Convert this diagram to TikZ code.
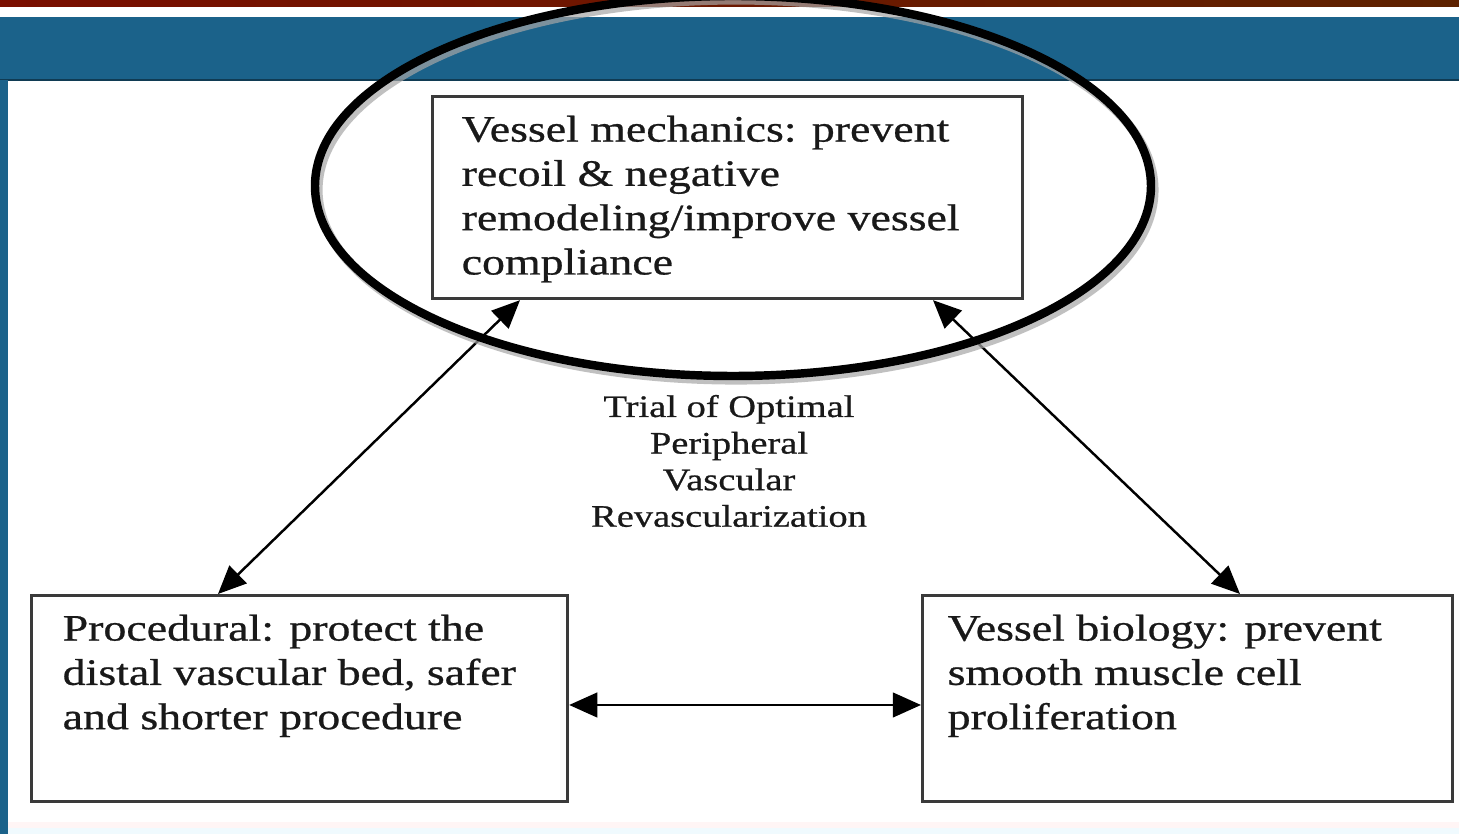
\documentclass[tikz,border=0pt]{standalone}
\usepackage{fontspec}
\setmainfont{Liberation Serif}
\newfontfamily\wideserif[FakeStretch=1.23,FakeBold=0.7]{Liberation Serif}
\usetikzlibrary{calc,arrows.meta}
\definecolor{barred}{HTML}{7A0E00}
\definecolor{barbrown}{HTML}{5E2200}
\definecolor{bandblue}{HTML}{1B628A}
\definecolor{boxgray}{HTML}{3A3A3A}
\tikzset{
  box/.style={draw=boxgray, line width=0.9pt, rectangle, inner sep=0pt},
  boxtext/.style={anchor=north west, align=left, inner sep=0pt, font=\wideserif\fontsize{10.6}{12.6}\selectfont, text=black!90},
  centertext/.style={align=center, inner sep=0pt, font=\wideserif\fontsize{8.9}{10.4}\selectfont, text=black!90},
  link/.style={line width=0.7pt, {Triangle[length=8pt,width=7pt]}-{Triangle[length=8pt,width=7pt]}},
}
\begin{document}
\begin{tikzpicture}[x=0.01cm, y=-0.01cm]
\useasboundingbox (0,0) rectangle (1459,834);
\fill[white] (0,0) rectangle (1459,834);
% top red bar
\shade[left color=barred, right color=barbrown] (0,0) rectangle (1459,7);
% blue band
\fill[bandblue] (0,17) rectangle (1459,80);
\draw[bandblue!60!black, line width=0.6pt] (0,80) -- (1459,80);
% left blue strip
\fill[bandblue] (0,80) rectangle (8,834);
% faint bottom strip
\fill[red!4] (8,822) rectangle (1459,828);
\fill[cyan!6] (8,828) rectangle (1459,834);

% boxes
\node[box, minimum width=590*0.01cm, minimum height=202*0.01cm, anchor=north west] (mech) at (431,95) {};
\node[box, minimum width=536*0.01cm, minimum height=206*0.01cm, anchor=north west] (proc) at (30,594) {};
\node[box, minimum width=530*0.01cm, minimum height=206*0.01cm, anchor=north west] (bio) at (921,594) {};

\node[boxtext] (mechtxt) at (461,115) {Vessel mechanics: prevent\\recoil \& negative\\remodeling/improve vessel\\compliance};
\node[boxtext] (proctxt) at (62,614) {Procedural: protect the\\distal vascular bed, safer\\and shorter procedure};
\node[boxtext] (biotxt) at (947,614) {Vessel biology: prevent\\smooth muscle cell\\proliferation};

\node[centertext] (trial) at (729,461) {Trial of Optimal\\Peripheral\\Vascular\\Revascularization};

% connectors
\draw[link] ($(mech.south west)+(89,0)$) -- ($(proc.north west)+(188,0)$);
\draw[link] ($(mech.south west)+(502,0)$) -- ($(bio.north west)+(319,0)$);
\draw[link] ($(proc.north east)+(0,111)$) -- ($(bio.north west)+(0,111)$);

% highlight ellipse with shadow
\draw[gray!70, line width=2.6pt, opacity=0.7] (736,190) ellipse [x radius=418, y radius=190];
\draw[black, line width=2.4pt] (733,186) ellipse [x radius=418, y radius=190];
\end{tikzpicture}
\end{document}
